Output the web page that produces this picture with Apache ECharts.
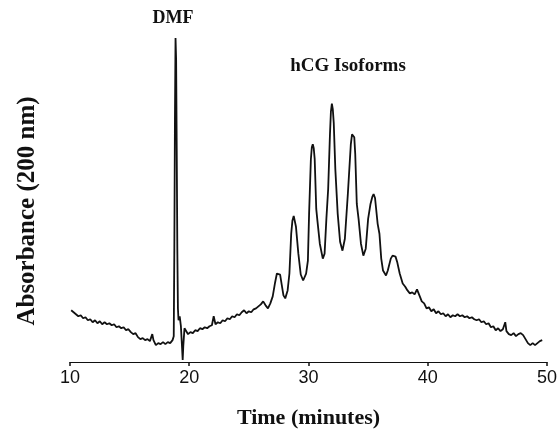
<!DOCTYPE html>
<html>
<head>
<meta charset="utf-8">
<script src="https://cdn.jsdelivr.net/npm/echarts@6/dist/echarts.min.js"></script>
<style>html,body{margin:0;padding:0;background:#fff;}#c{width:560px;height:434px;}</style>
</head>
<body>
<div id="c"></div>
<script>
// Time in minutes
var times = [10.1,10.2,10.3,10.5,10.7,10.9,11.1,11.3,11.5,11.7,11.9,12.1,12.3,12.5,12.7,12.9,13.1,13.3,13.5,13.7,13.9,14.1,14.3,14.5,14.7,14.9,15.1,15.3,15.5,15.7,15.9,16.1,16.3,16.5,16.7,16.9,17.0,17.2,17.4,17.6,17.8,18.0,18.2,18.4,18.6,18.7,18.75,18.8,18.85,18.9,18.95,19.0,19.05,19.1,19.2,19.3,19.4,19.45,19.5,19.6,19.7,19.9,20.1,20.3,20.5,20.7,20.9,21.1,21.3,21.5,21.7,21.9,22.05,22.2,22.4,22.6,22.8,23.0,23.2,23.4,23.6,23.8,24.0,24.2,24.4,24.6,24.8,25.0,25.2,25.4,25.6,25.8,26.0,26.2,26.4,26.6,26.8,27.0,27.2,27.35,27.5,27.62,27.75,27.9,28.05,28.25,28.4,28.55,28.65,28.76,28.86,28.95,29.15,29.35,29.55,29.8,29.95,30.05,30.2,30.28,30.36,30.44,30.52,30.65,30.75,30.95,31.2,31.35,31.5,31.65,31.8,31.88,31.96,32.04,32.12,32.25,32.45,32.65,32.85,33.05,33.3,33.55,33.65,33.75,33.84,33.92,34.05,34.2,34.4,34.6,34.8,35.0,35.2,35.35,35.46,35.58,35.8,35.95,36.1,36.25,36.5,36.65,36.9,37.05,37.18,37.3,37.45,37.65,37.9,38.1,38.3,38.5,38.7,38.9,39.1,39.3,39.5,39.7,39.9,40.1,40.3,40.5,40.7,40.9,41.1,41.3,41.5,41.7,41.9,42.1,42.3,42.5,42.7,42.9,43.1,43.3,43.5,43.7,43.9,44.1,44.3,44.5,44.7,44.9,45.1,45.3,45.5,45.7,45.9,46.1,46.3,46.5,46.6,46.8,47.0,47.2,47.4,47.6,47.8,48.0,48.2,48.4,48.6,48.8,49.0,49.2,49.4,49.6];
// Absorbance (arbitrary units)
var absorbance = [52,54,50,48,46,47,44,45,42,43,40,42,39,41,38,40,38,39,37,38,35,36,34,35,32,33,30,28,29,25,23,24,22,23,21,28,22,17,19,18,20,18,20,19,22,26,114,244,326,304,214,114,54,42,46,36,14,2,16,34,32,28,30,29,32,31,34,33,35,34,36,37,46,38,40,39,42,41,44,43,46,45,48,47,50,52,49,51,50,53,54,56,58,61,57,54,59,66,80,89,91,88,78,67,64,72,89,129,142,147,145,136,109,88,82,89,102,149,204,216,219,215,204,154,142,119,104,109,144,174,229,252,260,254,240,194,149,121,112,124,169,219,229,231,226,209,159,144,119,107,114,144,159,166,169,165,139,129,104,92,87,92,104,107,108,106,100,89,79,76,72,69,70,68,73,67,61,59,54,55,51,53,49,51,48,49,46,48,45,47,46,48,46,47,45,46,44,45,43,42,43,40,41,38,39,35,36,32,34,31,33,40,31,28,27,29,26,28,29,27,23,19,17,19,17,19,21,22];
var xTicks = [10, 20, 30, 40, 50];
var annotations = ["DMF", "hCG Isoforms"];
var xTitle = "Time (minutes)";
var yTitle = "Absorbance (200 nm)";

var data = times.map(function (t, i) { return [t, absorbance[i]]; });

var chart = echarts.init(document.getElementById('c'), null, {renderer: 'canvas'});
chart.setOption({
  animation: false,
  backgroundColor: '#fff',
  grid: {left: 70, right: 12, top: 24, bottom: 70},
  xAxis: {
    type: 'value', min: xTicks[0], max: xTicks[xTicks.length - 1], interval: 10,
    axisLine: {show: true, lineStyle: {color: '#111', width: 1}},
    axisTick: {show: true, length: 4, lineStyle: {color: '#111', width: 1.5}},
    axisLabel: {color: '#111', fontSize: 18, fontFamily: 'Liberation Sans', margin: 7},
    splitLine: {show: false},
    name: xTitle, nameLocation: 'middle', nameGap: 45,
    nameTextStyle: {color: '#111', fontSize: 22, fontWeight: 'bold', fontFamily: 'Liberation Serif'}
  },
  yAxis: {
    type: 'value', min: 0, max: 340, show: false
  },
  series: [{
    type: 'line', data: data, showSymbol: false, symbol: 'none',
    lineStyle: {color: '#111', width: 1.8}
  }],
  graphic: [
    {type: 'text', style: {text: annotations[0], x: 173, y: 18, align: 'center', verticalAlign: 'middle', font: 'bold 18px "Liberation Serif"', fill: '#111'}},
    {type: 'text', style: {text: annotations[1], x: 348, y: 66, align: 'center', verticalAlign: 'middle', font: 'bold 19px "Liberation Serif"', fill: '#111'}},
    {type: 'text', x: 28, y: 211, rotation: Math.PI / 2, style: {text: yTitle, x: 0, y: 0, align: 'center', verticalAlign: 'middle', font: 'bold 25px "Liberation Serif"', fill: '#111'}}
  ]
});
</script>
</body>
</html>
